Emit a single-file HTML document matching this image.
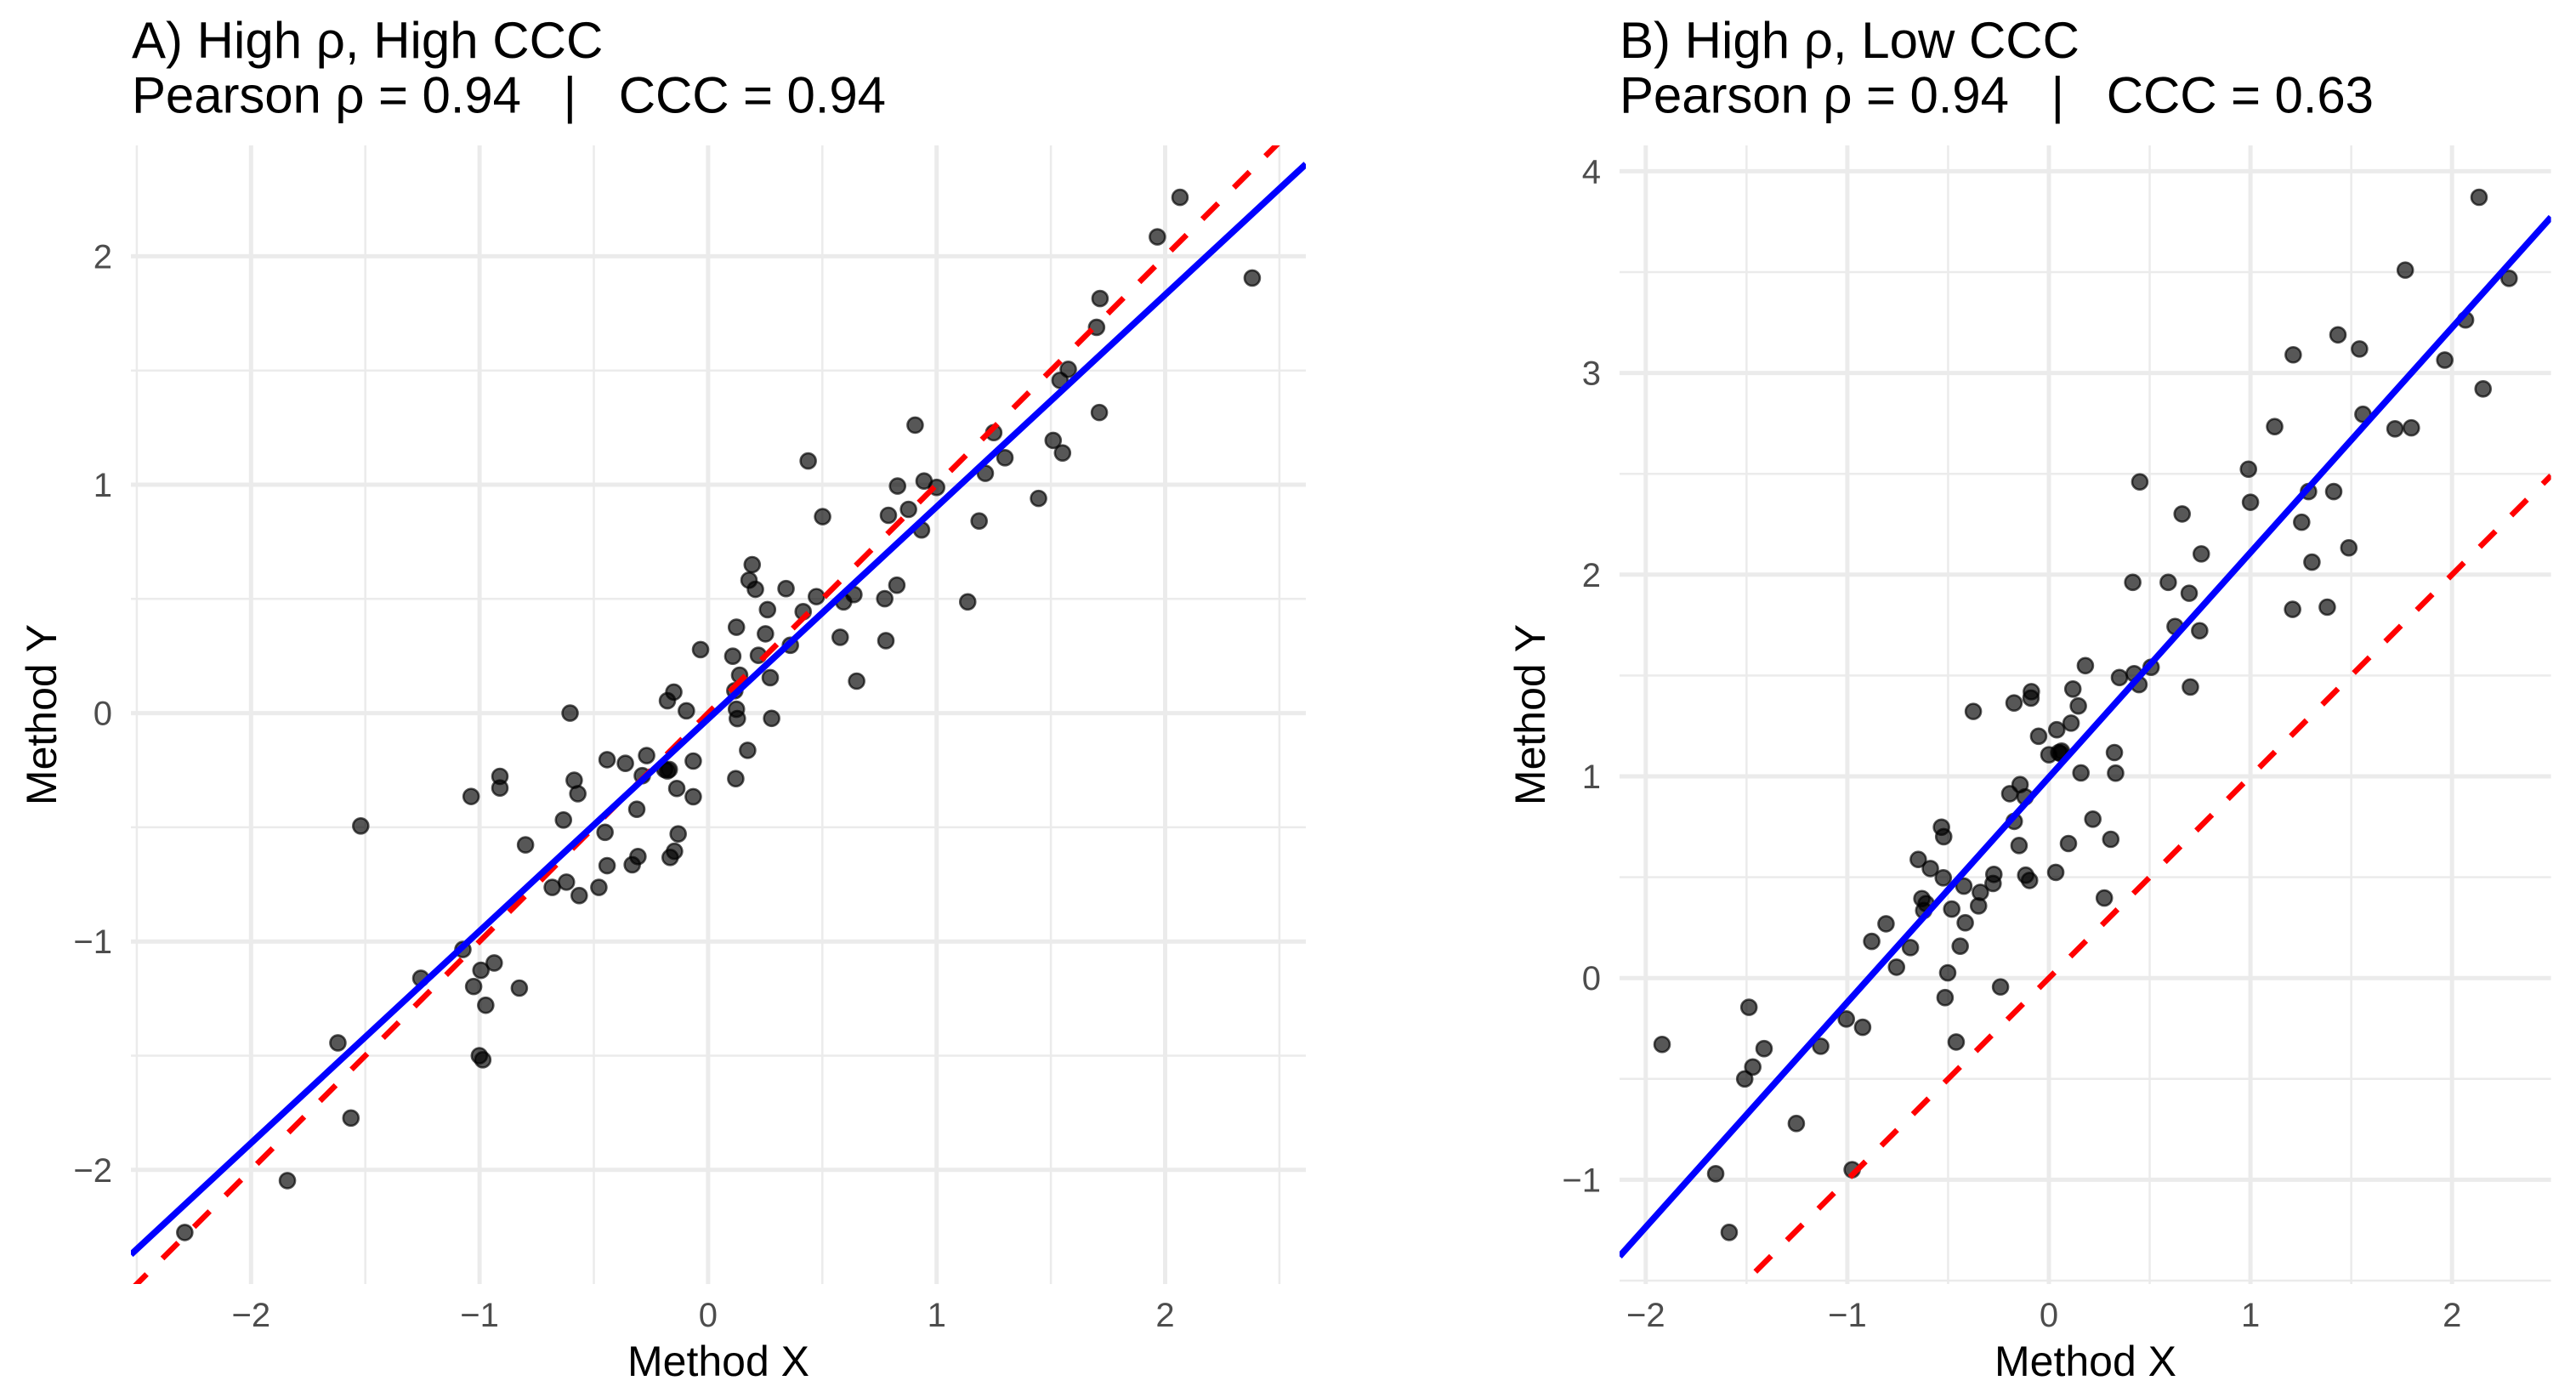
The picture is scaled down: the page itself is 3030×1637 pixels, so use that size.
<!DOCTYPE html>
<html lang="en">
<head>
<meta charset="utf-8">
<title>Pearson correlation versus concordance</title>
<style>
html,body{margin:0;padding:0;background:#fff;}
svg{display:block;}
text{font-family:"Liberation Sans",Arial,sans-serif;white-space:pre;}
.plot-title{font-size:60px;fill:#000;}
.axis-title{font-size:50px;fill:#000;}
.tick-label{font-size:40px;fill:#4d4d4d;}
</style>
</head>
<body>
<svg id="chart" xmlns="http://www.w3.org/2000/svg" width="3030" height="1637" viewBox="0 0 3030 1637">
  <rect x="0" y="0" width="3030" height="1637" fill="#ffffff"/>
  <defs>
    <clipPath id="clip-a"><rect x="154" y="171" width="1382" height="1339"/></clipPath>
    <clipPath id="clip-b"><rect x="1905" y="171" width="1095.6" height="1339"/></clipPath>
  </defs>
  <g id="panel-a">
    <text class="plot-title" x="155" y="68">A) High ρ, High CCC</text>
    <text class="plot-title" x="155" y="132.5" textLength="887" lengthAdjust="spacing">Pearson ρ = 0.94   |   CCC = 0.94</text>
    <text class="axis-title" x="845" y="1618" text-anchor="middle">Method X</text>
    <text class="axis-title" transform="translate(66 840.5) rotate(-90)" text-anchor="middle">Method Y</text>
  </g>
  <g id="panel-b">
    <text class="plot-title" x="1905" y="68">B) High ρ, Low CCC</text>
    <text class="plot-title" x="1905" y="132.5" textLength="887" lengthAdjust="spacing">Pearson ρ = 0.94   |   CCC = 0.63</text>
    <text class="axis-title" x="2453" y="1618" text-anchor="middle">Method X</text>
    <text class="axis-title" transform="translate(1817 840.5) rotate(-90)" text-anchor="middle">Method Y</text>
  </g>
</svg>
<script>
// Panel A data
const aTicksX = [-2, -1, 0, 1, 2];
const aTicksY = [-2, -1, 0, 1, 2];
const aMinorX = [-2.5, -1.5, -0.5, 0.5, 1.5, 2.5];
const aMinorY = [-1.5, -0.5, 0.5, 1.5];
const aPointsX = [
  0.829,0.945,1.0,1.213,1.446,0.501,0.789,0.877,0.934,1.186,
  0.193,0.179,0.207,0.341,0.474,0.638,0.593,0.826,0.773,1.136,
  0.26,0.416,0.124,0.251,-0.033,0.108,0.22,0.36,0.578,0.778,
  0.65,0.138,0.272,0.117,0.124,0.128,0.278,-0.15,-0.178,-0.095,
  0.173,-0.065,0.121,-0.17,-0.178,-0.19,-0.137,-0.065,-0.131,-0.147,
  -0.166,-0.604,-0.442,-0.362,-0.269,-0.288,-0.586,-0.57,-0.911,-0.911,
  -1.037,-0.312,-0.633,-0.451,-1.52,-0.799,-0.307,-0.332,-0.442,-0.62,
  -0.682,-0.564,-0.478,-1.073,-1.257,-0.936,-0.994,-1.026,-0.826,-0.973,
  -1.001,-0.986,-1.62,-1.563,-1.841,-2.29,2.065,1.966,2.381,1.715,
  1.7,1.576,1.54,1.712,1.51,1.551,0.906,1.25,1.299,0.438
];
const aPointsY = [
  0.994,1.016,0.988,1.05,0.94,0.86,0.866,0.892,0.802,0.841,
  0.65,0.582,0.542,0.545,0.51,0.519,0.487,0.56,0.501,0.487,
  0.453,0.444,0.376,0.347,0.278,0.249,0.253,0.297,0.332,0.317,
  0.14,0.166,0.155,0.098,0.017,-0.024,-0.023,0.092,0.054,0.01,
  -0.163,-0.21,-0.287,-0.247,-0.253,-0.247,-0.33,-0.366,-0.529,-0.605,
  -0.632,0,-0.204,-0.22,-0.186,-0.274,-0.294,-0.353,-0.277,-0.328,
  -0.365,-0.421,-0.468,-0.522,-0.494,-0.577,-0.628,-0.664,-0.668,-0.74,
  -0.763,-0.799,-0.763,-1.035,-1.161,-1.094,-1.126,-1.197,-1.204,-1.279,
  -1.5,-1.518,-1.444,-1.773,-2.047,-2.274,2.258,2.085,1.905,1.815,
  1.689,1.505,1.457,1.316,1.194,1.139,1.261,1.228,1.118,1.104
];
const aFit = [-0.0254, 0.9286];
const aIdentity = [0, 1];

// Panel B data
const bTicksX = [-2, -1, 0, 1, 2];
const bTicksY = [-1, 0, 1, 2, 3, 4];
const bMinorX = [-1.5, -0.5, 0.5, 1.5];
const bMinorY = [-1.5, -0.5, 0.5, 1.5, 2.5, 3.5];
const bPointsX = [
  2.134,1.768,2.283,1.434,1.541,1.212,2.067,1.964,2.154,1.12,
  1.558,1.717,1.798,0.99,0.451,1.0,0.661,1.288,1.413,1.254,
  0.756,1.488,1.305,0.416,0.592,0.696,1.209,1.381,0.626,0.748,
  0.181,0.507,0.423,0.35,0.447,0.702,0.119,-0.087,-0.089,-0.173,
  -0.375,0.146,0.11,0.039,-0.051,0,0.063,0.049,0.059,0.325,
  0.159,0.331,-0.143,-0.194,-0.118,-0.172,0.218,-0.148,0.097,0.307,
  -0.533,-0.522,-0.648,-0.588,-0.524,-0.422,-0.273,-0.277,-0.115,-0.096,
  0.034,0.275,-0.34,-0.349,-0.63,-0.609,-0.621,-0.482,-0.415,-0.808,
  -0.879,-0.687,-0.44,-0.756,-0.502,-0.515,-0.24,-1.488,-1.005,-0.924,
  -1.413,-1.469,-1.509,-1.132,-0.46,-1.919,-1.253,-0.976,-1.653,-1.586
];
const bPointsY = [
  3.871,3.51,3.469,3.189,3.119,3.09,3.263,3.064,2.921,2.734,
  2.795,2.723,2.728,2.523,2.46,2.359,2.301,2.412,2.412,2.26,
  2.103,2.133,2.062,1.962,1.962,1.908,1.828,1.839,1.743,1.722,
  1.549,1.541,1.509,1.49,1.455,1.443,1.433,1.42,1.388,1.364,
  1.322,1.349,1.264,1.231,1.199,1.107,1.125,1.118,1.113,1.118,
  1.017,1.016,0.959,0.914,0.898,0.777,0.788,0.657,0.667,0.688,
  0.748,0.701,0.588,0.543,0.497,0.456,0.514,0.469,0.51,0.484,
  0.524,0.397,0.425,0.358,0.394,0.369,0.335,0.342,0.274,0.269,
  0.182,0.151,0.158,0.054,0.026,-0.097,-0.044,-0.145,-0.203,-0.244,
  -0.35,-0.441,-0.5,-0.338,-0.317,-0.329,-0.721,-0.95,-0.97,-1.261
];
const bFit = [0.995, 1.115];
const bIdentity = [0, 1];

const NS = 'http://www.w3.org/2000/svg';

function makeAxis(origin, unit) {
  return function (v) { return origin + unit * v; };
}

function drawPanel(cfg) {
  const root = document.getElementById(cfg.rootId);
  const sx = makeAxis(cfg.x0, cfg.unitX);
  const sy = makeAxis(cfg.y0, -cfg.unitY);
  const gridGroup = document.createElementNS(NS, 'g');
  
  
  root.appendChild(gridGroup);

  function gridLine(x1, y1, x2, y2, width) {
    const l = document.createElementNS(NS, 'line');
    l.setAttribute('x1', x1);
    l.setAttribute('y1', y1);
    l.setAttribute('x2', x2);
    l.setAttribute('y2', y2);
    l.setAttribute('stroke', '#ebebeb');
    l.setAttribute('stroke-width', width);
    
    
    gridGroup.appendChild(l);
  }
  cfg.minorY.forEach(function (v) { gridLine(cfg.left, sy(v), cfg.right, sy(v), 2.5); });
  cfg.minorX.forEach(function (v) { gridLine(sx(v), cfg.top, sx(v), cfg.bottom, 2.5); });
  cfg.ticksY.forEach(function (v) { gridLine(cfg.left, sy(v), cfg.right, sy(v), 5); });
  cfg.ticksX.forEach(function (v) { gridLine(sx(v), cfg.top, sx(v), cfg.bottom, 5); });

  function label(v) { return v < 0 ? '\u2212' + Math.abs(v) : String(v); }
  cfg.ticksX.forEach(function (v) {
    const t = document.createElementNS(NS, 'text');
    t.setAttribute('class', 'tick-label');
    t.setAttribute('x', sx(v));
    t.setAttribute('y', 1560);
    t.setAttribute('text-anchor', 'middle');
    
    
    t.textContent = label(v);
    root.appendChild(t);
  });
  cfg.ticksY.forEach(function (v) {
    const t = document.createElementNS(NS, 'text');
    t.setAttribute('class', 'tick-label');
    t.setAttribute('x', cfg.left - 22);
    t.setAttribute('y', sy(v) + 14);
    t.setAttribute('text-anchor', 'end');
    
    
    t.textContent = label(v);
    root.appendChild(t);
  });

  const marks = document.createElementNS(NS, 'g');
  marks.setAttribute('clip-path', 'url(#' + cfg.clipId + ')');
  
  
  root.appendChild(marks);

  cfg.pointsX.forEach(function (px, i) {
    const c = document.createElementNS(NS, 'circle');
    c.setAttribute('cx', sx(px));
    c.setAttribute('cy', sy(cfg.pointsY[i]));
    c.setAttribute('r', 9);
    c.setAttribute('fill', '#000');
    c.setAttribute('fill-opacity', 0.66);
    c.setAttribute('stroke', '#000');
    c.setAttribute('stroke-opacity', 0.66);
    c.setAttribute('stroke-width', 2.6);
    
    
    marks.appendChild(c);
  });

  const xMin = (cfg.left - cfg.x0) / cfg.unitX;
  const xMax = (cfg.right - cfg.x0) / cfg.unitX;

  const red = document.createElementNS(NS, 'line');
  red.setAttribute('x1', sx(xMin));
  red.setAttribute('y1', sy(cfg.identity[0] + cfg.identity[1] * xMin));
  red.setAttribute('x2', sx(xMax));
  red.setAttribute('y2', sy(cfg.identity[0] + cfg.identity[1] * xMax));
  red.setAttribute('stroke', '#ff0000');
  red.setAttribute('stroke-width', 6.6);
  red.setAttribute('stroke-dasharray', '26.2 26.2');
  red.setAttribute('stroke-dashoffset', cfg.dashOffset);
  
  
  marks.appendChild(red);

  const blue = document.createElementNS(NS, 'line');
  blue.setAttribute('x1', sx(xMin));
  blue.setAttribute('y1', sy(cfg.fit[0] + cfg.fit[1] * xMin));
  blue.setAttribute('x2', sx(xMax));
  blue.setAttribute('y2', sy(cfg.fit[0] + cfg.fit[1] * xMax));
  blue.setAttribute('stroke', '#0000ff');
  blue.setAttribute('stroke-width', 7.6);
  
  
  marks.appendChild(blue);
}

drawPanel({
  rootId: 'panel-a', clipId: 'clip-a',
  x0: 832.9, unitX: 268.8, y0: 838.6, unitY: 268.6,
  left: 154, right: 1536, top: 171, bottom: 1510,
  ticksX: aTicksX, ticksY: aTicksY, minorX: aMinorX, minorY: aMinorY,
  pointsX: aPointsX, pointsY: aPointsY,
  fit: aFit, identity: aIdentity, dashOffset: 0
});
drawPanel({
  rootId: 'panel-b', clipId: 'clip-b',
  x0: 2410, unitX: 237.1, y0: 1150.2, unitY: 237.2,
  left: 1905, right: 3000.6, top: 171, bottom: 1510,
  ticksX: bTicksX, ticksY: bTicksY, minorX: bMinorX, minorY: bMinorY,
  pointsX: bPointsX, pointsY: bPointsY,
  fit: bFit, identity: bIdentity, dashOffset: 36
});
</script>
</body>
</html>
